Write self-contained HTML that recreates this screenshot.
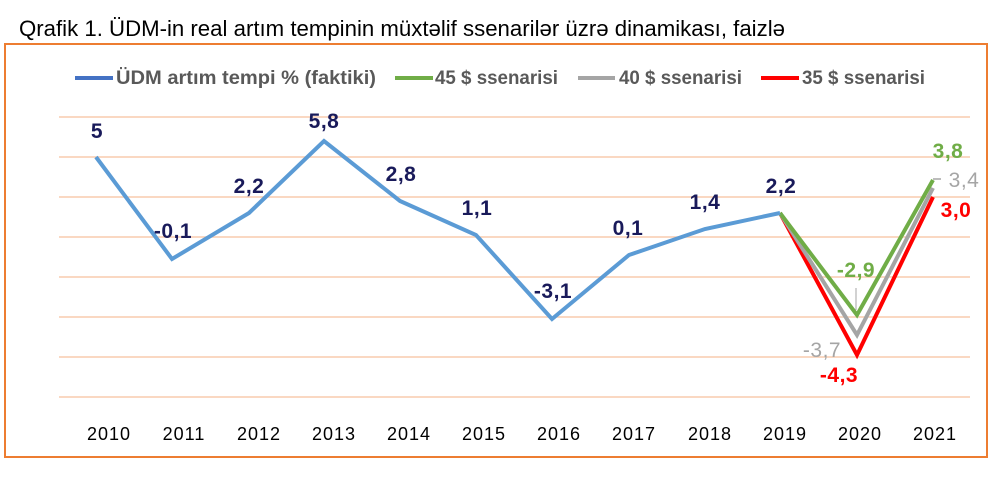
<!DOCTYPE html>
<html>
<head>
<meta charset="utf-8">
<style>
  html,body{margin:0;padding:0;background:#fff;}
  svg{display:block;}
</style>
</head>
<body>
<svg width="1000" height="478" viewBox="0 0 1000 478" xmlns="http://www.w3.org/2000/svg">
  <rect x="0" y="0" width="1000" height="478" fill="#ffffff"/>
  <!-- Title -->
  <text x="19" y="36" font-family="Liberation Sans, Arial, sans-serif" font-size="22" fill="#000" textLength="766" lengthAdjust="spacingAndGlyphs">Qrafik 1. ÜDM-in real artım tempinin müxtəlif ssenarilər üzrə dinamikası, faizlə</text>

  <!-- Chart border -->
  <rect x="5" y="44" width="982" height="413" fill="none" stroke="#ED7D31" stroke-width="2"/>

  <!-- Gridlines -->
  <g stroke="#F8CBAD" stroke-width="1.5">
    <line x1="59" y1="117" x2="970" y2="117"/>
    <line x1="59" y1="157" x2="970" y2="157"/>
    <line x1="59" y1="197" x2="970" y2="197"/>
    <line x1="59" y1="237" x2="970" y2="237"/>
    <line x1="59" y1="277" x2="970" y2="277"/>
    <line x1="59" y1="317" x2="970" y2="317"/>
    <line x1="59" y1="357" x2="970" y2="357"/>
    <line x1="59" y1="397" x2="970" y2="397"/>
  </g>

  <!-- Legend -->
  <g font-family="Liberation Sans, Arial, sans-serif" font-size="19" font-weight="bold" fill="#595959">
    <line x1="75" y1="78" x2="113" y2="78" stroke="#4472C4" stroke-width="4"/>
    <text x="116" y="84" textLength="260" lengthAdjust="spacingAndGlyphs">ÜDM artım tempi % (faktiki)</text>
    <line x1="395" y1="78" x2="433" y2="78" stroke="#70AD47" stroke-width="4"/>
    <text x="435" y="84" textLength="123" lengthAdjust="spacingAndGlyphs">45 $ ssenarisi</text>
    <line x1="578" y1="78" x2="615" y2="78" stroke="#A5A5A5" stroke-width="4"/>
    <text x="619" y="84" textLength="123" lengthAdjust="spacingAndGlyphs">40 $ ssenarisi</text>
    <line x1="761" y1="78" x2="799" y2="78" stroke="#FF0000" stroke-width="4"/>
    <text x="802" y="84" textLength="123" lengthAdjust="spacingAndGlyphs">35 $ ssenarisi</text>
  </g>

  <!-- Scenario lines -->
  <polyline points="780,213 857,355 933,197" fill="none" stroke="#FF0000" stroke-width="4" stroke-linejoin="miter"/>
  <polyline points="780,213 857,335 933,188" fill="none" stroke="#A5A5A5" stroke-width="4" stroke-linejoin="miter"/>
  <polyline points="780,213 857,315 933,180" fill="none" stroke="#70AD47" stroke-width="4" stroke-linejoin="miter"/>

  <!-- Actual line -->
  <polyline points="96,157 172,259 249,213 324,141 400,201 476,235 552,319 629,255 705,229 780,213" fill="none" stroke="#5B9BD5" stroke-width="4" stroke-linejoin="miter"/>

  <!-- Leader lines -->
  <line x1="856" y1="288" x2="856" y2="310" stroke="#A5A5A5" stroke-width="1"/>
  <line x1="933" y1="179" x2="941" y2="179" stroke="#A5A5A5" stroke-width="1.5"/>

  <!-- Data labels (actual) -->
  <g font-family="Liberation Sans, Arial, sans-serif" font-size="21" font-weight="bold" fill="#191A5A" text-anchor="middle" letter-spacing="0.5">
    <text x="97" y="138">5</text>
    <text x="173" y="238">-0,1</text>
    <text x="249" y="193">2,2</text>
    <text x="324" y="128">5,8</text>
    <text x="401" y="181">2,8</text>
    <text x="477" y="215">1,1</text>
    <text x="553" y="298">-3,1</text>
    <text x="628" y="235">0,1</text>
    <text x="705" y="209">1,4</text>
    <text x="781" y="193">2,2</text>
  </g>

  <!-- Scenario labels -->
  <g font-family="Liberation Sans, Arial, sans-serif" font-size="21" text-anchor="middle" letter-spacing="0.5">
    <text x="948" y="158" font-weight="bold" fill="#70AD47">3,8</text>
    <text x="964" y="187" fill="#A5A5A5">3,4</text>
    <text x="956" y="217" font-weight="bold" fill="#FF0000">3,0</text>
    <text x="856" y="277" font-weight="bold" fill="#70AD47">-2,9</text>
    <text x="822" y="357" fill="#A5A5A5">-3,7</text>
    <text x="839" y="382" font-weight="bold" fill="#FF0000">-4,3</text>
  </g>

  <!-- X axis labels -->
  <g font-family="Liberation Sans, Arial, sans-serif" font-size="18" fill="#000" text-anchor="middle" letter-spacing="1">
    <text x="109" y="440">2010</text>
    <text x="184" y="440">2011</text>
    <text x="259" y="440">2012</text>
    <text x="334" y="440">2013</text>
    <text x="409" y="440">2014</text>
    <text x="484" y="440">2015</text>
    <text x="559" y="440">2016</text>
    <text x="634" y="440">2017</text>
    <text x="710" y="440">2018</text>
    <text x="785" y="440">2019</text>
    <text x="860" y="440">2020</text>
    <text x="935" y="440">2021</text>
  </g>
</svg>
</body>
</html>
